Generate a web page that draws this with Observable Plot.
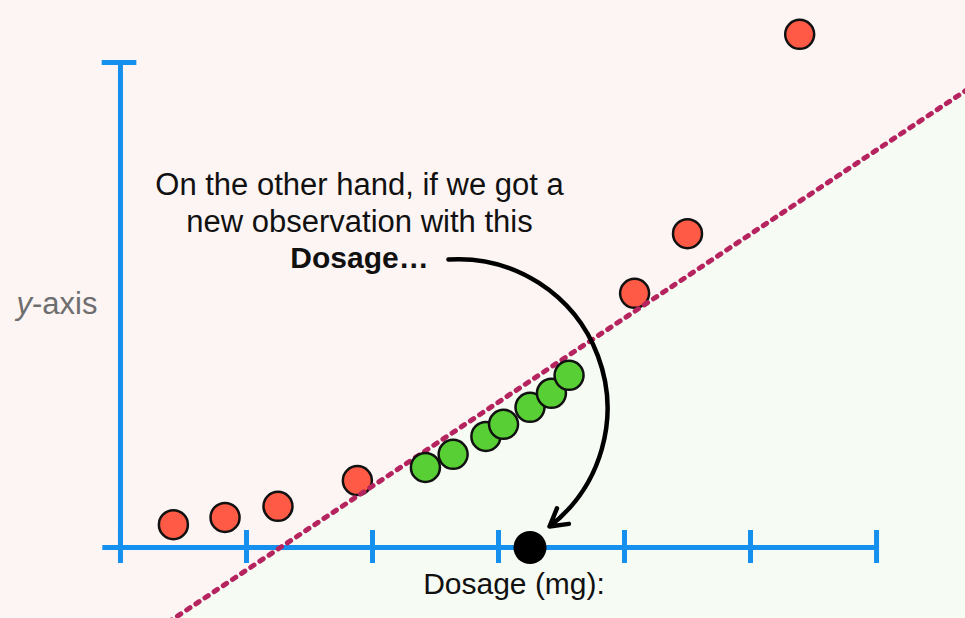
<!DOCTYPE html>
<html>
<head>
<meta charset="utf-8">
<script src="https://cdn.jsdelivr.net/npm/d3@7"></script>
<script src="https://cdn.jsdelivr.net/npm/@observablehq/plot@0.6"></script>
<style>
  html, body { margin: 0; padding: 0; background: #fdf5f4; }
</style>
</head>
<body>
<div id="chart"></div>
<script>
// ---- data (Dosage units on x, arbitrary y units) ----
const redDosage   = [0.42, 0.83, 1.25, 1.88, 4.08, 4.50, 5.39];
const redY        = [0.47, 0.62, 0.85, 1.38, 5.24, 6.47, 10.58];
const greenDosage = [2.42, 2.64, 2.90, 3.04, 3.25, 3.42, 3.56];
const greenY      = [1.65, 1.92, 2.29, 2.54, 2.89, 3.18, 3.55];
const newDosage   = [3.25];
const newY        = [0];
const xTicks      = [0, 1, 2, 3, 4, 5, 6];
const boundaryDosage = [-1, 6.8];
const boundaryY      = [-3.93, 9.58];
const annotationLines = ["On the other hand, if we got a", "new observation with this"];
const annotationBold  = "Dosage…";
const xLabel = "Dosage (mg):";
const yLabel = "y-axis";

// ---- tables built from arrays ----
const red = redDosage.map((d, i) => ({d, y: redY[i]}));
const green = greenDosage.map((d, i) => ({d, y: greenY[i]}));
const newObs = newDosage.map((d, i) => ({d, y: newY[i]}));
const boundary = boundaryDosage.map((d, i) => ({d, y: boundaryY[i]}));

const pink = "#fdf5f4", mint = "#f6fbf4", blue = "#1590ee";
const font = "'Liberation Sans', Arial, Helvetica, sans-serif";

const plot = Plot.plot({
  width: 965,
  height: 618,
  margin: 0,
  x: {domain: [-0.952, 6.706], axis: null},
  y: {domain: [-1.464, 11.278], axis: null},
  style: {background: pink, fontFamily: font},
  marks: [
    Plot.areaY(boundary, {x: "d", y1: "y", y2: 13, fill: pink, clip: true}),
    Plot.areaY(boundary, {x: "d", y1: -5, y2: "y", fill: mint, clip: true}),
    // axes
    Plot.ruleY([0], {x1: -0.14, x2: 6.0, stroke: blue, strokeWidth: 5}),
    Plot.ruleX(xTicks, {y1: -0.33, y2: 0.35, stroke: blue, strokeWidth: 5}),
    Plot.ruleX([0], {y1: 0, y2: 10, stroke: blue, strokeWidth: 5}),
    Plot.ruleY([10], {x1: -0.145, x2: 0.13, stroke: blue, strokeWidth: 5}),
    // points
    Plot.dot(red, {x: "d", y: "y", r: 14.5, fill: "#ff5a45", stroke: "#111", strokeWidth: 2.5}),
    Plot.line(boundary, {x: "d", y: "y", stroke: "#b5245f", strokeWidth: 5, strokeDasharray: "4,7", clip: true}),
    Plot.dot(green, {x: "d", y: "y", r: 14.5, fill: "#58cf35", stroke: "#111", strokeWidth: 2.5}),
    Plot.dot(newObs, {x: "d", y: "y", r: 16.5, fill: "#000"}),
    // arrow
    Plot.arrow([{x1: 2.603, y1: 5.938, x2: 3.405, y2: 0.433}], {
      x1: "x1", y1: "y1", x2: "x2", y2: "y2",
      bend: 73, stroke: "#000", strokeWidth: 4.5, headLength: 6.5
    }),
    // annotation
    Plot.text([annotationLines[0]], {x: 1.897, y: 7.278, text: d => d, fontSize: 31, fill: "#111", lineAnchor: "bottom"}),
    Plot.text([annotationLines[1]], {x: 1.897, y: 6.515, text: d => d, fontSize: 31, fill: "#111", lineAnchor: "bottom"}),
    Plot.text([annotationBold], {x: 1.897, y: 5.753, text: d => d, fontSize: 30, fontWeight: "bold", fill: "#111", lineAnchor: "bottom"}),
    Plot.text([xLabel], {x: 3.123, y: -0.969, text: d => d, fontSize: 30, fill: "#111", lineAnchor: "bottom"}),
    Plot.text([yLabel], {x: -0.825, y: 4.804, text: d => d, fontSize: 31, fill: "#6e6e6e", textAnchor: "start", lineAnchor: "bottom"})
  ]
});

// italic "y" in the y-axis label
d3.select(plot).selectAll("text").each(function () {
  if (this.textContent === yLabel) {
    const t = d3.select(this);
    t.text(null);
    t.append("tspan").attr("font-style", "italic").text("y");
    t.append("tspan").text("-axis");
  }
});

document.getElementById("chart").appendChild(plot);
</script>
</body>
</html>
